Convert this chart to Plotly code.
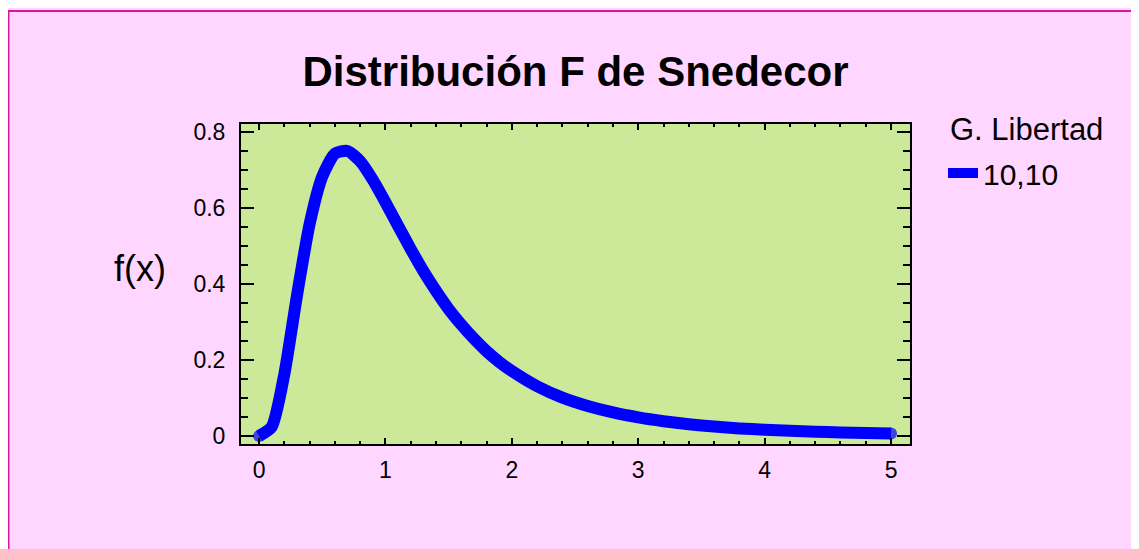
import plotly.graph_objects as go

# Values (F distribution, 10 and 10 degrees of freedom)
x_vals = [0.0, 0.1, 0.2, 0.3, 0.4, 0.5, 0.6, 0.7, 0.8, 0.9, 1.0,
          1.1, 1.2, 1.3, 1.4, 1.5, 1.6, 1.7, 1.8, 1.9, 2.0,
          2.2, 2.4, 2.6, 2.8, 3.0, 3.2, 3.4, 3.6, 3.8, 4.0,
          4.2, 4.4, 4.6, 4.8, 5.0]
f_vals = [0.0, 0.024, 0.163, 0.370, 0.558, 0.683, 0.743, 0.750, 0.723, 0.674, 0.615,
          0.553, 0.492, 0.434, 0.382, 0.334, 0.293, 0.256, 0.223, 0.195, 0.171,
          0.131, 0.101, 0.079, 0.062, 0.049, 0.039, 0.031, 0.025, 0.020, 0.0165,
          0.0136, 0.0112, 0.0094, 0.0078, 0.0065]
series_name = "10,10"
legend_title = "G. Libertad"
chart_title = "Distribución F de Snedecor"
y_label = "f(x)"
x_ticks = [0, 1, 2, 3, 4, 5]
y_ticks = [0, 0.2, 0.4, 0.6, 0.8]

W, H = 1139, 549
# figure-pixel coordinates (page adds an 8px body margin)
L, R, T, B = 233, 902, 116, 436

FONT = "Liberation Sans, Arial, sans-serif"
PINK = "#FFD6FF"
GREEN = "#CCE899"
BORDER = "#D9179E"
LINE_W = 12

fig = go.Figure()
n = len(x_vals)
cap_sizes = [LINE_W] + [0] * (n - 2) + [LINE_W]
fig.add_trace(go.Scatter(
    x=x_vals, y=f_vals, mode="lines+markers", name=series_name,
    line=dict(color="#0000FF", width=LINE_W, shape="spline", smoothing=0.6),
    marker=dict(size=cap_sizes, color="#0000FF", line=dict(width=0)),
))

def px(xp):
    return (xp - L) / (R - L)

def py(yp):
    return (B - yp) / (B - T)

shapes = [
    dict(type="line", xref="paper", yref="paper", x0=px(0), x1=px(W), y0=py(3), y1=py(3),
         line=dict(color=BORDER, width=2), layer="above"),
    dict(type="line", xref="paper", yref="paper", x0=px(0.5), x1=px(0.5), y0=py(2), y1=py(H),
         line=dict(color=BORDER, width=2), layer="above"),
]

annotations = [
    dict(text=y_label, xref="paper", yref="paper", x=px(132), y=py(260),
         showarrow=False, font=dict(family=FONT, size=36, color="black"),
         xanchor="center", yanchor="middle"),
    dict(text=legend_title, xref="paper", yref="paper", x=px(940), y=py(121),
         showarrow=False, font=dict(family=FONT, size=31, color="black"),
         xanchor="left", yanchor="middle"),
]

fig.update_layout(
    width=W, height=H,
    margin=dict(l=L, r=W - R, t=T, b=H - B, pad=0),
    paper_bgcolor=PINK, plot_bgcolor=GREEN,
    title=dict(text=f"<b>{chart_title}</b>", x=(L + R) / 2 / W, xanchor="center",
               y=1 - 63 / H, yanchor="middle", yref="container",
               font=dict(family=FONT, size=42, color="black")),
    font=dict(family=FONT, color="black"),
    showlegend=True,
    legend=dict(x=px(935), y=py(139), xanchor="left", yanchor="top",
                bgcolor="rgba(0,0,0,0)", font=dict(family=FONT, size=30, color="black"),
                itemwidth=30, tracegroupgap=0),
    shapes=shapes, annotations=annotations,
    xaxis=dict(range=[-0.143, 5.15], tickvals=x_ticks, ticks="inside", ticklen=6,
               tickwidth=1.5, tickcolor="black", showgrid=False, zeroline=False,
               showline=True, linecolor="black", linewidth=2, mirror="ticks",
               tickfont=dict(family=FONT, size=23, color="black"), ticklabelstandoff=4,
               minor=dict(dtick=0.2, ticks="inside", ticklen=3, tickwidth=1.5,
                          tickcolor="black", showgrid=False)),
    yaxis=dict(range=[-0.021, 0.821], tickvals=y_ticks, ticks="inside", ticklen=13,
               tickwidth=1.5, tickcolor="black", showgrid=False, zeroline=False,
               showline=True, linecolor="black", linewidth=2, mirror="ticks",
               tickfont=dict(family=FONT, size=23, color="black"), ticklabelstandoff=9,
               minor=dict(dtick=0.05, ticks="inside", ticklen=7, tickwidth=1.5,
                          tickcolor="black", showgrid=False)),
)

fig.write_html("out.html")
